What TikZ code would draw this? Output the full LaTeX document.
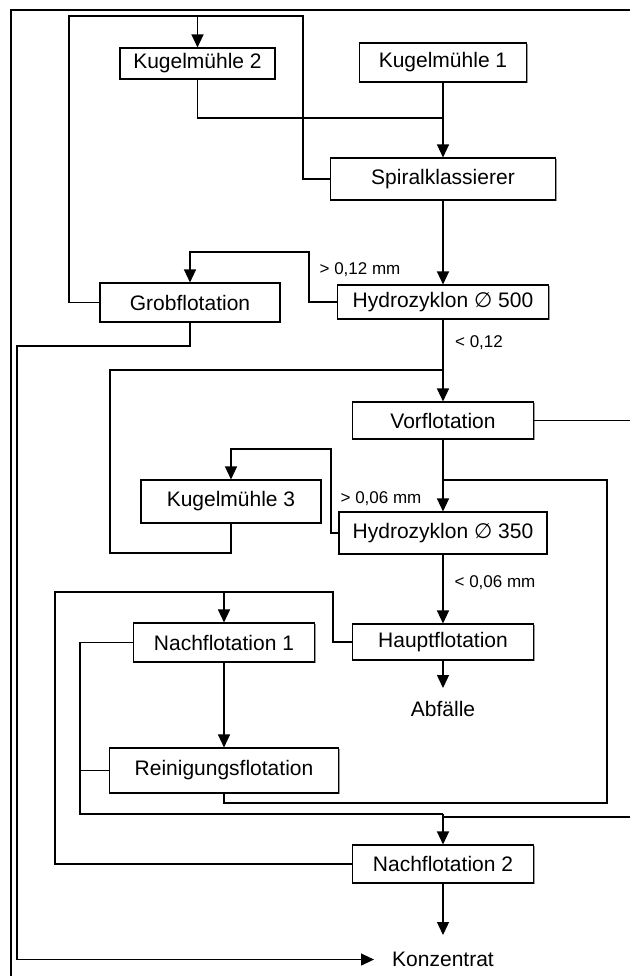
\documentclass[tikz,border=0pt]{standalone}
\usepackage{fontspec}
\setmainfont{Liberation Sans}
\newfontfamily\symfont{DejaVu Sans}
\usetikzlibrary{arrows.meta,shadows}
\begin{document}
\begin{tikzpicture}[x=1pt,y=-1pt,
  box/.style={draw, line width=1.1pt, fill=white, inner sep=0pt,
    font=\fontsize{21}{25}\selectfont,
    drop shadow={shadow xshift=1.2pt, shadow yshift=-1.2pt, fill=black!40, opacity=1}},
  flow/.style={line width=1.3pt},
  arr/.style={flow, -{Triangle[length=13pt,width=12pt]}},
  lbl/.style={font=\fontsize{17}{20}\selectfont, inner sep=0pt},
  endtxt/.style={font=\fontsize{21}{25}\selectfont}]
\useasboundingbox (0,0) rectangle (630,976);

% frame
\draw[line width=2.2pt] (630,10) -- (11,10) -- (11,976);

% process units
\node[box, minimum width=155pt, minimum height=31pt] (km2) at (197.5,63.5) {Kugelmühle 2};
\node[box, minimum width=167pt, minimum height=39pt] (km1) at (443,62.5) {Kugelmühle 1};
\node[box, minimum width=225pt, minimum height=42pt] (spiral) at (443,179) {Spiralklassierer};
\node[box, minimum width=211pt, minimum height=34pt] (hz500) at (443,302) {Hydrozyklon {\symfont ∅} 500};
\node[box, minimum width=180pt, minimum height=39pt] (grob) at (190,302.5) {Grobflotation};
\node[box, minimum width=181pt, minimum height=37pt] (vor) at (443,420.5) {Vorflotation};
\node[box, minimum width=180pt, minimum height=43pt] (km3) at (231,501.5) {Kugelmühle 3};
\node[box, minimum width=208pt, minimum height=42pt] (hz350) at (443,533) {Hydrozyklon {\symfont ∅} 350};
\node[box, minimum width=181pt, minimum height=39pt] (nf1) at (224,642.5) {Nachflotation 1};
\node[box, minimum width=181pt, minimum height=36pt] (haupt) at (443,642) {Hauptflotation};
\node[box, minimum width=229pt, minimum height=45pt] (rein) at (224,770.5) {Reinigungsflotation};
\node[box, minimum width=181pt, minimum height=38pt] (nf2) at (443,864) {Nachflotation 2};

% products
\node[endtxt, anchor=north, inner xsep=0pt, inner ysep=13pt] (abf) at (443,688) {Abfälle};
\node[endtxt, anchor=north, inner xsep=18pt, inner ysep=17pt] (konz) at (443,935) {Konzentrat};

% size fractions
\node[lbl] (l1) at (360,270) {> 0,12 mm};
\node[lbl] (l2) at (479,343) {< 0,12};
\node[lbl] (l3) at (381,499) {> 0,06 mm};
\node[lbl] (l4) at (495,583) {< 0,06 mm};

% bend points
\coordinate (loopL) at (69,16);
\coordinate (loopR) at (303,16);
\coordinate (j1) at (443,118);
\coordinate (r1) at (309,252);
\coordinate (g1) at (17,346);
\coordinate (j2) at (443,370);
\coordinate (k3a) at (110,553);
\coordinate (vorOut) at (630,420.5);
\coordinate (j3) at (443,480);
\coordinate (r2) at (331,449);
\coordinate (rb) at (607,803);
\coordinate (t5) at (333,592);
\coordinate (n2a) at (55,592);
\coordinate (c1) at (80,814);
\coordinate (j4) at (443,814);
\coordinate (retIn) at (630,817);
\coordinate (j4r) at (443,817);

% grinding circuit
\draw[flow] (grob.west) -| (loopL) -- (loopR) |- (spiral.west);
\draw[arr] (km2.north |- loopL) -- (km2.north);
\draw[flow] (km2.south) |- (j1);
\draw[arr] (km1.south) -- (spiral.north);
\draw[arr] (spiral.south) -- (hz500.north);
\draw[arr] (hz500.west) -| (r1) -| (grob.north);
\draw[arr] (grob.south) |- (g1) |- (konz.west);

% rougher and regrind
\draw[arr] (hz500.south) -- (vor.north);
\draw[flow] (km3.south) |- (k3a) |- (j2);
\draw[flow] (vor.east) -- (vorOut);
\draw[arr] (vor.south) -- (hz350.north);
\draw[flow] (rein.south) |- (rb) |- (j3);
\draw[arr] (hz350.west) -| (r2) -| (km3.north);
\draw[arr] (hz350.south) -- (haupt.north);
\draw[arr] (haupt.south) -- (abf.north);

% cleaning circuit
\draw[flow] (nf2.west) -| (n2a) -- (t5) |- (haupt.west);
\draw[arr] (nf1.north |- t5) -- (nf1.north);
\draw[arr] (nf1.south) -- (rein.north);
\draw[flow] (nf1.west) -| (c1) -- (j4);
\draw[flow] (rein.west) -- (rein.west -| c1);
\draw[flow] (retIn) -- (j4r);
\draw[arr] (j4) -- (nf2.north);
\draw[arr] (nf2.south) -- (konz.north);
\end{tikzpicture}
\end{document}
